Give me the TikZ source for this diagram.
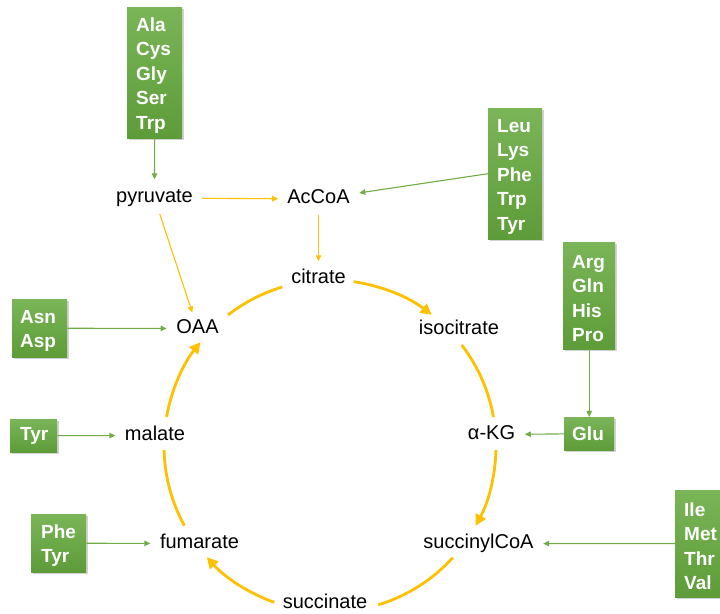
\documentclass[tikz,border=0pt]{standalone}
\usepackage{fontspec}
\setmainfont{Liberation Sans}
\usetikzlibrary{arrows.meta,shadows}
\definecolor{leafgreen}{RGB}{112,173,71}
\definecolor{boxtop}{RGB}{122,181,88}
\definecolor{boxbottom}{RGB}{93,156,56}
\definecolor{gold}{RGB}{255,192,0}
\begin{document}
\begin{tikzpicture}[x=1pt,y=1pt,
  metab/.style={font=\fontsize{20}{24}\selectfont, text height=14pt, text depth=4pt, inner sep=2pt},
  aabox/.style={anchor=north west, top color=boxtop, bottom color=boxbottom, draw=none,
    text=white, font=\fontsize{19}{24.5}\selectfont\bfseries, align=left, inner ysep=0pt,
    drop shadow={shadow xshift=1.5pt, shadow yshift=-2pt, opacity=0.35}},
  tall/.style={execute at begin node={\rule{0pt}{19pt}}},
  feed/.style={draw=leafgreen, line width=1.1pt, -{Triangle[length=6pt,width=5.5pt]}, shorten >=7.5pt},
  link/.style={draw=gold, line width=1.1pt, -{Triangle[length=6pt,width=5.5pt]}},
  cyc/.style={draw=gold, line width=2.8pt},
  cycarrow/.style={cyc, -{Triangle[length=11pt,width=11pt]}}
]
\fill[white] (0,0) rectangle (720,613);
\clip (0,0) rectangle (720,613);

% metabolites
\node[metab] (pyruvate)   at (154.5,415) {pyruvate};
\node[metab] (accoa)      at (318.5,414) {AcCoA};
\node[metab] (citrate)    at (318.5,334) {citrate};
\node[metab] (isocitrate) at (459,283)   {isocitrate};
\node[metab] (akg)        at (491.5,178.5) {α-KG};
\node[metab] (succoa)     at (478.5,69.5)  {succinylCoA};
\node[metab] (succinate)  at (325,9.5)    {succinate};
\node[metab] (fumarate)   at (199.5,69.5)  {fumarate};
\node[metab] (malate)     at (155,177.5)   {malate};
\node[metab] (oaa)        at (197.5,284.5) {OAA};

% amino-acid sources
\node[aabox, tall, text width=37pt, inner xsep=9pt, minimum height=131pt] (src1) at (127,606) {Ala\\Cys\\Gly\\Ser\\Trp};
\node[aabox, tall, text width=36pt, inner xsep=9pt, minimum height=131pt] (src2) at (488,505) {Leu\\Lys\\Phe\\Trp\\Tyr};
\node[aabox, tall, text width=34pt, inner xsep=9pt, minimum height=107pt] (src3) at (563,371) {Arg\\Gln\\His\\Pro};
\node[aabox, text width=34pt, inner xsep=8pt, minimum height=33pt] (glu) at (564,196) {Glu};
\node[aabox, tall, text width=39pt, inner xsep=8pt, minimum height=58pt] (src4) at (12,314) {Asn\\Asp};
\node[aabox, text width=27pt, inner xsep=10pt, minimum height=33pt] (src5) at (10,194) {Tyr};
\node[aabox, tall, text width=35pt, inner xsep=10pt, minimum height=58pt] (src6) at (31,99) {Phe\\Tyr};
\node[aabox, tall, text width=34pt, inner xsep=9pt, minimum height=107pt] (src7) at (675,123) {Ile\\Met\\Thr\\Val};

% feeding arrows
\draw[feed] (src1) -- (pyruvate);
\draw[feed] (src2.west) -- (accoa);
\draw[feed] (src4) -- (oaa);
\draw[feed] (src5) -- (malate);
\draw[feed] (src6) -- (fumarate);
\draw[feed, shorten >=0pt] (src3) -- (glu);
\draw[feed] (glu) -- (akg);
\draw[feed] (src7) -- (succoa);

% entry reactions
\draw[link, shorten <=7pt, shorten >=7pt] (pyruvate) -- (accoa);
\draw[link, shorten <=5pt, shorten >=5pt] (pyruvate) -- (oaa);
\draw[link, shorten <=5pt, shorten >=6.5pt] (accoa) -- (citrate);

% citric acid cycle
\coordinate (hub) at (330,167);
\draw[cycarrow] ([shift={(81.8:166)}]hub) arc[start angle=81.8, end angle=52.2, radius=166];
\draw[cyc]      ([shift={(37.5:166)}]hub) arc[start angle=37.5, end angle=10, radius=166];
\draw[cycarrow] ([shift={(-1.4:166)}]hub) arc[start angle=-1.4, end angle=-28.7, radius=166];
\draw[cyc]      ([shift={(-42.3:166)}]hub) arc[start angle=-42.3, end angle=-73.1, radius=166];
\draw[cycarrow] ([shift={(250.4:166)}]hub) arc[start angle=250.4, end angle=222.1, radius=166];
\draw[cyc]      ([shift={(208.7:166)}]hub) arc[start angle=208.7, end angle=181.4, radius=166];
\draw[cycarrow] ([shift={(169.9:166)}]hub) arc[start angle=169.9, end angle=141.3, radius=166];
\draw[cyc]      ([shift={(127.9:166)}]hub) arc[start angle=127.9, end angle=106.7, radius=166];
\end{tikzpicture}
\end{document}
